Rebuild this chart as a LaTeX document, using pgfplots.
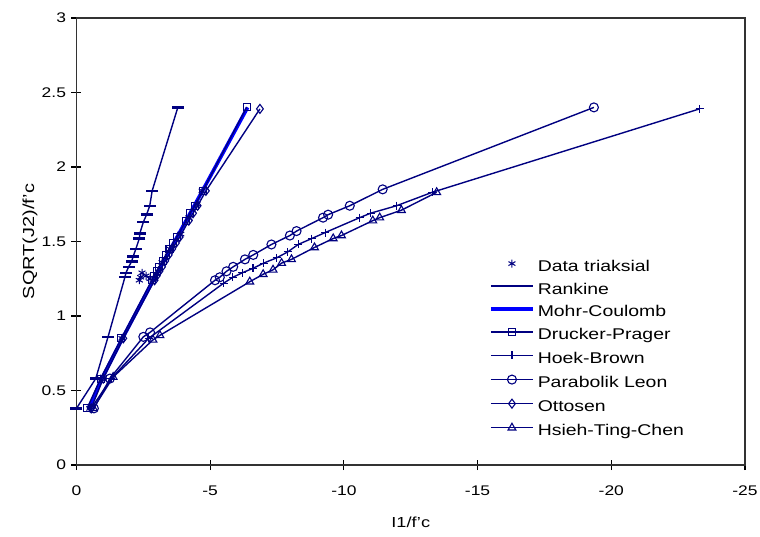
\documentclass[border=0pt]{standalone}
\usepackage{fontspec}
\setmainfont{Liberation Sans}[FakeStretch=1.25]
\usepackage{pgfplots}
\pgfplotsset{compat=1.18}
\definecolor{navy}{RGB}{0,0,128}
\definecolor{mcblue}{RGB}{0,0,255}

\begin{document}
\begin{tikzpicture}
\useasboundingbox (-76.5bp,-72bp) rectangle (683.5bp,465bp);
\begin{axis}[
    at={(0,0)}, anchor=south west,
    scale only axis,
    width=668.5bp, height=447bp,
    x dir=reverse,
    xmin=-25, xmax=0, ymin=0, ymax=3,
    xtick={-25,-20,-15,-10,-5,0},
    ytick={0,0.5,1,1.5,2,2.5,3},
    tick pos=left,
    tick align=center,
    major tick length=10bp,
    every tick/.style={black, line width=1.2bp},
    axis line style={black!80, line width=1.4bp},
    /pgf/number format/assume math mode=true,
    ticklabel style={font=\fontsize{14}{16}\selectfont},
    xticklabel style={yshift=-12bp},
    yticklabel style={xshift=-2bp},
    xlabel={I1/f'c},
    ylabel={SQRT(J2)/f'c},
    every axis x label/.style={at={(axis description cs:0.5,0)}, yshift=-57bp, anchor=center,
        font=\fontsize{14.6}{17}\selectfont},
    every axis y label/.style={at={(axis description cs:0,0.5)}, xshift=-46.5bp, rotate=90, anchor=center,
        font=\fontsize{16}{18}\selectfont},
    legend style={draw=none, fill=none, at={(axis description cs:0.617,0.46)}, anchor=north west,
        font=\fontsize{15.6}{18}\selectfont, row sep=8.6bp, inner sep=0pt,
        nodes={inner sep=0pt, text height=11bp, text depth=3bp}},
    legend cell align=left,
    legend image code/.code={\draw[mark repeat=2, mark phase=2, #1] plot coordinates {(0bp,4bp) (21bp,4bp) (42bp,4bp)};},
    every axis plot/.append style={line width=1.4bp},
]
% Data triaksial
\addplot[only marks, mark=asterisk, mark size=4bp, navy, line width=1bp,
    legend image code/.code={\draw[##1] plot coordinates {(21bp,4bp)};}] coordinates {
    (-0.5,0.38) (-0.9,0.58) (-1.7,0.85) (-2.35,1.24) (-2.4,1.26) (-2.45,1.29)
    (-2.6,1.27) (-2.75,1.25) (-3.0,1.28) (-3.2,1.36) (-3.5,1.45) (-3.9,1.55)
    (-4.2,1.66) (-4.5,1.75) (-4.7,1.84)
};
\addlegendentry{\hspace{3bp}Data triaksial}
% Rankine
\addplot[navy, mark=-, mark size=6bp, mark options={line width=2.4bp}] coordinates {
    (0,0.38) (-0.72,0.58) (-1.18,0.86) (-1.81,1.26) (-1.85,1.29) (-1.95,1.33)
    (-2.06,1.365) (-2.12,1.40) (-2.22,1.45) (-2.35,1.52) (-2.37,1.555) (-2.5,1.63)
    (-2.62,1.68) (-2.74,1.74) (-2.83,1.84) (-3.79,2.40)
};
\addlegendentry{\hspace{3bp}Rankine}
% Mohr-Coulomb
\addplot[mcblue, line width=3.6bp] coordinates {
    (-0.45,0.38) (-0.95,0.58) (-1.72,0.85) (-2.87,1.24) (-3.67,1.50) (-4.71,1.84) (-6.40,2.40)
};
\addlegendentry{\hspace{3bp}Mohr-Coulomb}
% Drucker-Prager
\addplot[navy, mark=square, mark size=3.5bp, mark options={fill=white, line width=1.1bp}] coordinates {
    (-0.4,0.38) (-0.9,0.58) (-1.68,0.85) (-2.82,1.24) (-2.9,1.27) (-3.0,1.30)
    (-3.1,1.33) (-3.22,1.37) (-3.35,1.41) (-3.48,1.45) (-3.62,1.49) (-3.75,1.53)
    (-4.1,1.64) (-4.25,1.69) (-4.42,1.74) (-4.72,1.84) (-6.36,2.40)
};
\addlegendentry{\hspace{3bp}Drucker-Prager}
% Hoek-Brown
\addplot[navy, mark=+, mark size=4bp, mark options={line width=1.1bp}] coordinates {
    (-0.55,0.38) (-1.3,0.58) (-2.7,0.85) (-5.5,1.22) (-5.85,1.26) (-6.2,1.29)
    (-6.6,1.32) (-7.0,1.355) (-7.48,1.39) (-7.9,1.43) (-8.29,1.48) (-8.8,1.52)
    (-9.3,1.56) (-10.59,1.66) (-11.0,1.69) (-11.97,1.74) (-13.3,1.83) (-23.3,2.39)
};
\addlegendentry{\hspace{3bp}Hoek-Brown}
% Parabolik Leon
\addplot[navy, mark=o, mark size=4.5bp, mark options={fill=white, line width=1.1bp}] coordinates {
    (-0.65,0.38) (-1.25,0.58) (-2.50,0.86) (-2.75,0.89) (-5.18,1.24) (-5.36,1.26)
    (-5.61,1.30) (-5.86,1.33) (-6.30,1.38) (-6.61,1.41) (-7.29,1.48) (-7.98,1.54)
    (-8.23,1.57) (-9.22,1.66) (-9.41,1.68) (-10.22,1.74) (-11.45,1.85) (-19.35,2.40)
};
\addlegendentry{\hspace{3bp}Parabolik Leon}
% Ottosen
\addplot[navy, mark=diamond, mark size=4.5bp, mark options={fill=white, line width=1.1bp}] coordinates {
    (-0.55,0.38) (-1.0,0.58) (-1.75,0.85) (-2.92,1.24) (-3.0,1.27) (-3.1,1.30)
    (-3.2,1.33) (-3.32,1.37) (-3.45,1.41) (-3.58,1.45) (-3.72,1.49) (-3.86,1.53)
    (-4.2,1.64) (-4.36,1.69) (-4.53,1.74) (-4.84,1.84) (-6.86,2.39)
};
\addlegendentry{\hspace{3bp}Ottosen}
% Hsieh-Ting-Chen
\addplot[navy, mark=triangle, mark size=4.5bp, mark options={fill=white, line width=1.1bp}] coordinates {
    (-0.63,0.38) (-1.37,0.59) (-2.86,0.84) (-3.12,0.87) (-6.48,1.23) (-6.98,1.28)
    (-7.35,1.31) (-7.67,1.355) (-8.04,1.38) (-8.9,1.46) (-9.6,1.52) (-9.91,1.54)
    (-11.08,1.64) (-11.34,1.66) (-12.15,1.71) (-13.47,1.83)
};
\addlegendentry{\hspace{3bp}Hsieh-Ting-Chen}
\end{axis}
\end{tikzpicture}
\end{document}
